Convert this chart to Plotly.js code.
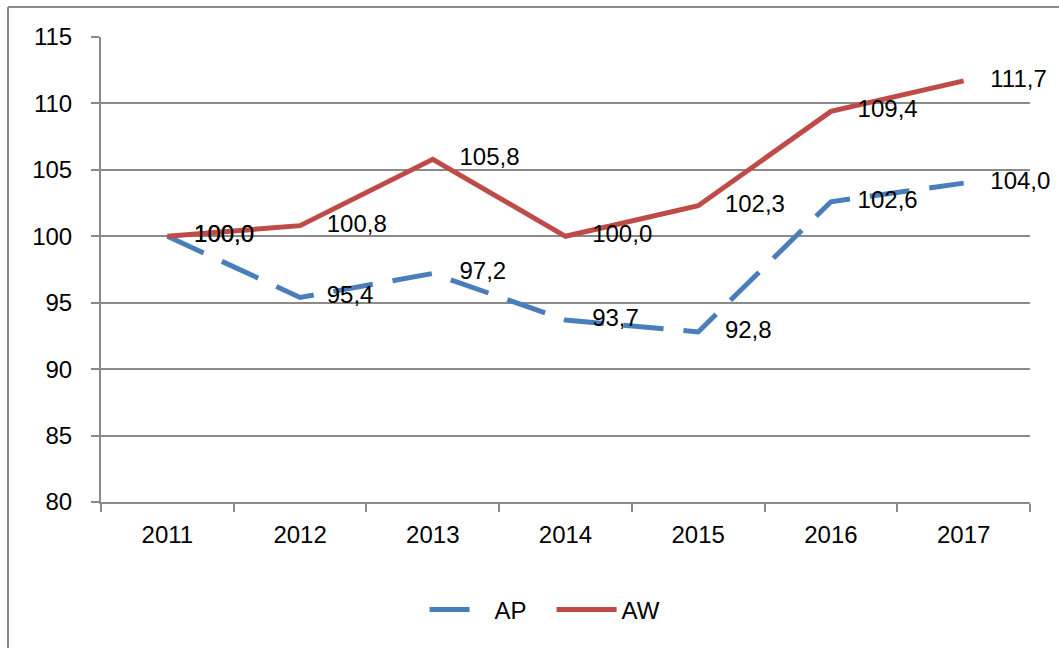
<!DOCTYPE html>
<html>
<head>
<meta charset="utf-8">
<script src="https://cdn.plot.ly/plotly-3.0.1.min.js"></script>
<style>
  body { margin: 0; background: #fff; }
  #chart { width: 1059px; height: 648px; }
</style>
</head>
<body>
<div id="chart"></div>
<script>
// index values, 2011 = 100
var years = ["2011", "2012", "2013", "2014", "2015", "2016", "2017"];
var apValues = [100.0, 95.4, 97.2, 93.7, 92.8, 102.6, 104.0];
var awValues = [100.0, 100.8, 105.8, 100.0, 102.3, 109.4, 111.7];

// excel style labels: decimal comma, pushed a bit right of the point
function fmt(v) {
    return "\u00a0\u00a0\u00a0\u00a0" + v.toFixed(1).replace(".", ",");
}

var labelFont = {family: "Liberation Sans, Arial, sans-serif", size: 24, color: "#000"};

var ap = {
    x: years,
    y: apValues,
    name: "AP\u00a0\u00a0\u00a0",
    type: "scatter",
    mode: "lines+text",
    line: {color: "#4a7ebb", width: 5, dash: "40px,20px"},
    text: apValues.map(fmt),
    textposition: "middle right",
    textfont: labelFont,
    cliponaxis: false
};

var aw = {
    x: years,
    y: awValues,
    name: "AW",
    type: "scatter",
    mode: "lines+text",
    line: {color: "#be4b48", width: 5},
    text: awValues.map(fmt),
    textposition: "middle right",
    textfont: labelFont,
    cliponaxis: false
};

var frame = {color: "#8a8a8a", width: 2};

var layout = {
    width: 1059,
    height: 648,
    margin: {l: 101, r: 29, t: 37, b: 146},
    paper_bgcolor: "#fff",
    plot_bgcolor: "#fff",
    font: labelFont,
    hovermode: false,
    showlegend: true,
    legend: {
        orientation: "h",
        x: 0.478,
        xanchor: "center",
        y: -0.232,
        yanchor: "middle",
        font: labelFont,
        itemwidth: 60
    },
    xaxis: {
        type: "category",
        range: [-0.5, 6.5],
        showgrid: false,
        showline: true,
        linecolor: "#8a8a8a",
        linewidth: 2,
        ticks: "outside",
        tickson: "boundaries",
        ticklen: 8,
        tickcolor: "#8a8a8a",
        tickwidth: 2,
        ticklabelstandoff: 10,
        tickfont: labelFont
    },
    yaxis: {
        range: [80, 115],
        dtick: 5,
        showgrid: true,
        gridcolor: "#8a8a8a",
        gridwidth: 2,
        zeroline: false,
        showline: true,
        linecolor: "#8a8a8a",
        linewidth: 2,
        ticks: "outside",
        ticklen: 8,
        tickcolor: "#8a8a8a",
        tickwidth: 2,
        ticklabelstandoff: 14,
        tickfont: labelFont
    },
    shapes: [
        {type: "line", xref: "paper", yref: "paper", x0: -0.1001, x1: -0.1001, y0: -0.32, y1: 1.0645, line: frame},
        {type: "line", xref: "paper", yref: "paper", x0: -0.1001, x1: 1.04, y0: 1.0645, y1: 1.0645, line: frame}
    ]
};

Plotly.newPlot("chart", [ap, aw], layout, {displayModeBar: false, staticPlot: true});
</script>
</body>
</html>
